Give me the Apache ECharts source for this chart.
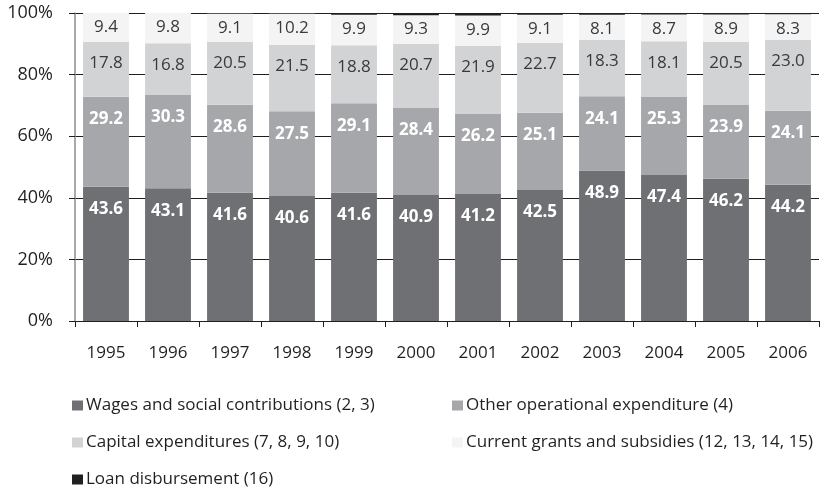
<!DOCTYPE html>
<html>
<head>
<meta charset="utf-8">
<script src="https://cdn.jsdelivr.net/npm/echarts@6/dist/echarts.min.js"></script>
<style>
  html, body { margin: 0; padding: 0; background: #fff; }
  #chart { width: 827px; height: 490px; }
</style>
</head>
<body>
<div id="chart"></div>
<script>
// Expenditure structure by year, shares in percent
const years = ['1995','1996','1997','1998','1999','2000','2001','2002','2003','2004','2005','2006'];
const wages   = [43.6, 43.1, 41.6, 40.6, 41.6, 40.9, 41.2, 42.5, 48.9, 47.4, 46.2, 44.2];
const otherOp = [29.2, 30.3, 28.6, 27.5, 29.1, 28.4, 26.2, 25.1, 24.1, 25.3, 23.9, 24.1];
const capital = [17.8, 16.8, 20.5, 21.5, 18.8, 20.7, 21.9, 22.7, 18.3, 18.1, 20.5, 23.0];
const grants  = [9.4, 9.8, 9.1, 10.2, 9.9, 9.3, 9.9, 9.1, 8.1, 8.7, 8.9, 8.3];
const loans   = [0.0, 0.0, 0.2, 0.2, 0.6, 0.7, 0.8, 0.6, 0.6, 0.5, 0.5, 0.4];
const yTicks  = [0, 20, 40, 60, 80, 100];

const seriesNames = [
  'Wages and social contributions (2, 3)',
  'Other operational expenditure (4)',
  'Capital expenditures (7, 8, 9, 10)',
  'Current grants and subsidies (12, 13, 14, 15)',
  'Loan disbursement (16)'
];
const colors = ['#6f7073', '#a6a7aa', '#d2d3d5', '#f4f4f4', '#231f20'];

const FONT = '"Open Sans", "DejaVu Sans", sans-serif';
const TEXT = '#231f20';

function barSeries(name, data, color, label) {
  return {
    name: name,
    type: 'bar',
    stack: 'total',
    data: data,
    barWidth: '74%',
    itemStyle: { color: color },
    label: label,
    emphasis: { disabled: true }
  };
}

const fmt = p => p.value.toFixed(1);

const chart = echarts.init(document.getElementById('chart'));

const legendSlots = [
  { left: 72, top: 397 },
  { left: 452, top: 397 },
  { left: 72, top: 434 },
  { left: 452, top: 434 },
  { left: 72, top: 471 }
];

chart.setOption({
  animation: false,
  backgroundColor: '#ffffff',
  textStyle: { fontFamily: FONT },
  grid: { left: 75, right: 8, top: 13, bottom: 169 },
  legend: legendSlots.map((pos, i) => ({
    data: [seriesNames[i]],
    left: pos.left,
    top: pos.top,
    icon: 'rect',
    itemWidth: 11,
    itemHeight: 10,
    itemGap: 0,
    padding: 0,
    selectedMode: false,
    textStyle: { fontFamily: FONT, fontSize: 17, color: TEXT, padding: [0, 0, 0, -2] }
  })),
  xAxis: {
    type: 'category',
    data: years,
    boundaryGap: true,
    axisLine: { lineStyle: { color: TEXT, width: 1 } },
    axisTick: { show: true, length: 6, alignWithLabel: false, lineStyle: { color: TEXT } },
    axisLabel: { fontFamily: FONT, fontSize: 17, color: TEXT, margin: 24 }
  },
  yAxis: {
    type: 'value',
    min: yTicks[0],
    max: yTicks[yTicks.length - 1],
    interval: 20,
    axisLine: { show: true, lineStyle: { color: '#8c8c8c', width: 1.5 } },
    axisTick: { show: true, length: 6, lineStyle: { color: TEXT } },
    splitLine: { show: true, lineStyle: { color: TEXT, width: 1 } },
    axisLabel: {
      fontFamily: FONT, fontSize: 18, color: TEXT, margin: 22,
      formatter: v => v + '%'
    }
  },
  series: [
    barSeries(seriesNames[0], wages, colors[0], {
      show: true, position: 'insideTop', distance: 14, formatter: fmt,
      color: '#ffffff', fontWeight: 'bold', fontSize: 17, fontFamily: FONT
    }),
    barSeries(seriesNames[1], otherOp, colors[1], {
      show: true, position: 'insideTop', distance: 14, formatter: fmt,
      color: '#ffffff', fontWeight: 'bold', fontSize: 17, fontFamily: FONT
    }),
    barSeries(seriesNames[2], capital, colors[2], {
      show: true, position: 'insideTop', distance: 13, formatter: fmt,
      color: '#3a3a3c', fontSize: 17, fontFamily: FONT
    }),
    barSeries(seriesNames[3], grants, colors[3], {
      show: true, position: 'insideTop', distance: 6, formatter: fmt,
      color: '#3a3a3c', fontSize: 17, fontFamily: FONT
    }),
    barSeries(seriesNames[4], loans, colors[4], { show: false })
  ]
});
</script>
</body>
</html>
